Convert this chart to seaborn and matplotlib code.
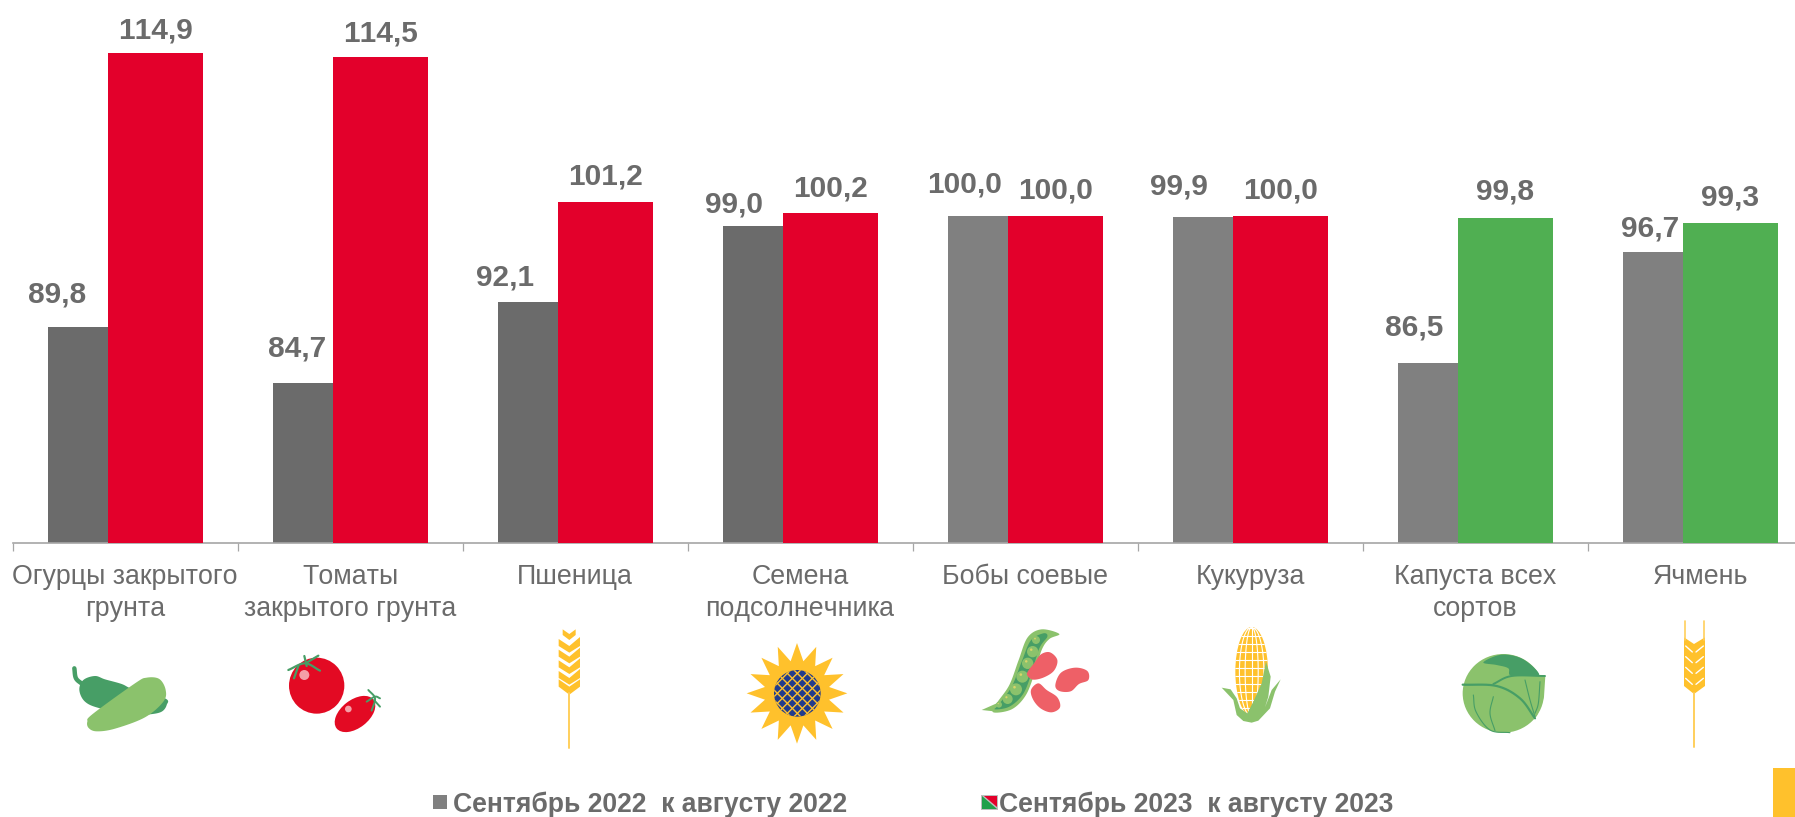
import numpy as np
import pandas as pd
import matplotlib
matplotlib.use("Agg")
import matplotlib.pyplot as plt
from matplotlib.patches import Polygon, Circle, Ellipse, Rectangle
import seaborn as sns

categories = ["Огурцы закрытого\nгрунта", "Томаты\nзакрытого грунта", "Пшеница", "Семена\nподсолнечника",
              "Бобы соевые", "Кукуруза", "Капуста всех\nсортов", "Ячмень"]
series_2022 = [89.8, 84.7, 92.1, 99.0, 100.0, 99.9, 86.5, 96.7]
series_2023 = [114.9, 114.5, 101.2, 100.2, 100.0, 100.0, 99.8, 99.3]
name_2022 = "Сентябрь 2022  к августу 2022"
name_2023 = "Сентябрь 2023  к августу 2023"

GREY_D, GREY_L = "#6B6B6B", "#808080"
RED, GREEN = "#E3002B", "#50AF52"
TXT = "#6B6B6B"
YEL, LG, DG = "#FFC12C", "#8BC26C", "#479E66"
colors_2022 = [GREY_D] * 4 + [GREY_L] * 4
colors_2023 = [RED] * 6 + [GREEN] * 2
# label offsets from each bar's centre/top, in pixels
dx_2022 = [-38, -23, -40, -36, -31, -41, -31, -20]
dy_2022 = [32, 34, 24, 22, 31, 30, 35, 23]
dy_2023 = [22, 23.5, 26, 24.5, 25, 25, 26, 26]

sns.set_theme(style="white")
plt.rcParams["font.family"] = ["Liberation Sans", "DejaVu Sans"]
plt.rcParams["text.kerning_factor"] = 12

W, H = 1795, 817
fig = plt.figure(figsize=(W / 100, H / 100), dpi=100, facecolor="white")
BASE = 543
ax = fig.add_axes([12.6 / W, 1 - BASE / H, 1 - 12.6 / W, BASE / H])

df = pd.DataFrame({"cat": categories * 2,
                   "val": series_2022 + series_2023,
                   "s": [name_2022] * 8 + [name_2023] * 8})
sns.barplot(data=df, x="cat", y="val", hue="s", order=categories, hue_order=[name_2022, name_2023],
            palette=[GREY_D, RED], saturation=1, legend=False, ax=ax, errorbar=None)

BW = 95 / 225
OFF = 30 / 225
for cont, sign, cols in zip(ax.containers, (-1, 1), (colors_2022, colors_2023)):
    for i, (p, c) in enumerate(zip(cont.patches, cols)):
        p.set_width(BW)
        p.set_x(i + sign * OFF - BW / 2)
        p.set_facecolor(c)
        p.set_edgecolor("none")
        p.set_zorder(3 if sign > 0 else 2)

ax.set_xlim(-0.5, (W - 12.6) / 225 - 0.5)
ax.set_ylim(70.0, 119.75)
ax.set_xlabel("")
ax.set_ylabel("")
ax.set_yticks([])
for s in ("left", "top", "right"):
    ax.spines[s].set_visible(False)
ax.spines["bottom"].set_color("#A6A6A6")
ax.spines["bottom"].set_linewidth(1.2)
ax.set_xticks(np.arange(-0.5, 7.5), minor=True)
ax.tick_params(axis="x", which="minor", length=5.8, width=0.9, color="#A6A6A6", bottom=True)
ax.tick_params(axis="x", which="major", length=0, pad=15, labelsize=19.3, labelcolor=TXT)
for t in ax.get_xticklabels():
    t.set_linespacing(1.33)
    t.set_va("top")

for i in range(8):
    ax.annotate(f"{series_2022[i]:.1f}".replace(".", ","), (i - OFF, series_2022[i]),
                xytext=(dx_2022[i] * .72, dy_2022[i] * .72), textcoords="offset points",
                ha="center", va="center", fontsize=21.5, fontweight="bold", color=TXT, zorder=5)
    ax.annotate(f"{series_2023[i]:.1f}".replace(".", ","), (i + OFF, series_2023[i]),
                xytext=(0, dy_2023[i] * .72), textcoords="offset points",
                ha="center", va="center", fontsize=21.5, fontweight="bold", color=TXT, zorder=5)

# ---- overlay in pixel coordinates for pictograms and legend ----
ov = fig.add_axes([0, 0, 1, 1], facecolor="none")
ov.set_xlim(0, W)
ov.set_ylim(H, 0)
ov.axis("off")


def smooth(pts, n=10):
    pts = np.asarray(pts, float)
    out = []
    m = len(pts)
    for k in range(m):
        p0, p1, p2, p3 = pts[k - 1], pts[k], pts[(k + 1) % m], pts[(k + 2) % m]
        for t in np.linspace(0, 1, n, endpoint=False):
            out.append(0.5 * (2 * p1 + (p2 - p0) * t + (2 * p0 - 5 * p1 + 4 * p2 - p3) * t ** 2
                              + (3 * p1 - p0 - 3 * p2 + p3) * t ** 3))
    return np.array(out)


def smooth_open(pts):
    pts = np.asarray(pts, float)
    if len(pts) < 3:
        return pts
    ext = np.vstack([2 * pts[0] - pts[1], pts, 2 * pts[-1] - pts[-2]])
    out = []
    for k in range(1, len(ext) - 2):
        p0, p1, p2, p3 = ext[k - 1], ext[k], ext[k + 1], ext[k + 2]
        for t in np.linspace(0, 1, 10):
            out.append(0.5 * (2 * p1 + (p2 - p0) * t + (2 * p0 - 5 * p1 + 4 * p2 - p3) * t ** 2
                              + (3 * p1 - p0 - 3 * p2 + p3) * t ** 3))
    return np.array(out)


class Icon:
    def __init__(self, x0, y0):
        self.x0, self.y0 = x0, y0

    def xy(self, pts):
        return np.asarray(pts, float) / 3 + [self.x0, self.y0]

    def poly(self, pts, c, z=10):
        ov.add_patch(Polygon(self.xy(pts), closed=True, fc=c, ec="none", zorder=z))

    def blob(self, pts, c, z=10):
        self.poly(smooth(pts), c, z)

    def line(self, pts, c, lw=1.5, z=11):
        a = self.xy(smooth_open(pts))
        ov.plot(a[:, 0], a[:, 1], color=c, lw=lw, zorder=z, solid_capstyle="round")

    def circ(self, x, y, r, c, z=11):
        p = self.xy([[x, y]])[0]
        ov.add_patch(Circle(p, r / 3, fc=c, ec="none", zorder=z))

    def ell(self, x, y, w, h, ang, c, z=10):
        p = self.xy([[x, y]])[0]
        ov.add_patch(Ellipse(p, w / 3, h / 3, angle=ang, fc=c, ec="none", zorder=z))


# pepper + cucumber
a = Icon(50, 640)
a.line([(73, 85), (78, 115), (98, 133)], DG, lw=3.2)
a.blob([(88, 150), (100, 120), (135, 108), (165, 118), (215, 132), (250, 148), (345, 175), (350, 195),
        (335, 215), (300, 223), (250, 225), (150, 205), (105, 185)], DG)
a.blob([(112, 245), (128, 222), (255, 130), (290, 113), (328, 117), (347, 150), (340, 185), (285, 232),
        (195, 266), (140, 274), (116, 264)], LG, z=11)

# tomatoes
a.ell(800, 137, 166, 168, 0, "#E30A23")
a.circ(763, 105, 15, "#F4A0A8")
for pts in ([(715, 90), (765, 70), (810, 92)], [(763, 48), (770, 78)], [(770, 68), (805, 47)], [(745, 78), (732, 115)]):
    a.line(pts, DG, lw=1.6, z=12)
a.ell(915, 222, 140, 84, -38, "#E30A23")
a.circ(895, 207, 10, "#F4A0A8")
for pts in ([(955, 150), (975, 175), (965, 212)], [(950, 185), (975, 170), (990, 175)], [(972, 180), (990, 200)]):
    a.line(pts, DG, lw=1.4, z=12)

# wheat
b = Icon(530, 620)
b.line([(117, 220), (117, 383)], "#FFCF5C", lw=1.4)
b.poly([(98, 28), (118, 42), (137, 28), (137, 45), (118, 60), (98, 45)], YEL)
for y in (48, 80, 112, 144):
    b.poly([(86, y + 9), (118, y + 30), (150, y + 3), (150, y + 30), (118, y + 50), (86, y + 30)], YEL)
b.poly([(86, 178), (118, 200), (150, 178), (150, 200), (118, 224), (86, 200)], YEL)

# sunflower
ang = np.arange(32) * np.pi / 16
rad = np.where(np.arange(32) % 2 == 0, 151, 98)
b.poly(np.c_[801 + rad * np.sin(ang), 220 - rad * np.cos(ang)], YEL)
disc = Circle(b.xy([[802, 220]])[0], 70 / 3, fc="#233C8C", ec="none", zorder=11)
ov.add_patch(disc)
for d in np.arange(-120, 121, 30):
    for sgn in (1, -1):
        pts = b.xy([[802 - 100, 220 + d - sgn * 100], [802 + 100, 220 + d + sgn * 100]])
        l, = ov.plot(pts[:, 0], pts[:, 1], color=YEL, lw=1.0, zorder=12)
        l.set_clip_path(disc)

# pod + beans
c = Icon(960, 620)
c.blob([(110, 250), (148, 195), (176, 120), (203, 52), (245, 28), (298, 42), (268, 57), (245, 90),
        (222, 165), (196, 228), (155, 268), (100, 277)], LG)
c.poly([(65, 270), (110, 250), (120, 276)], LG)
c.blob([(115, 255), (155, 200), (185, 125), (212, 62), (250, 40), (262, 50), (238, 85), (213, 165),
        (188, 224), (148, 260), (105, 268)], DG, z=11)
for x, y, r in [(228, 60, 12), (218, 95, 17), (203, 130, 17), (187, 170, 18), (168, 208, 18), (143, 237, 15), (117, 254, 9)]:
    c.circ(x, y, r, LG, z=12)
    c.circ(x - r * .25, y - r * .35, r * .22, "#D9D56A", z=13)
BEAN = "#EE6067"
c.blob([(203, 155), (222, 130), (243, 103), (270, 97), (292, 120), (282, 152), (252, 172), (220, 179), (203, 168)], BEAN, z=14)
c.blob([(286, 195), (303, 158), (345, 143), (382, 153), (385, 180), (357, 192), (332, 214), (298, 213)], BEAN, z=14)
c.blob([(213, 210), (235, 190), (260, 210), (292, 232), (300, 262), (275, 277), (243, 266), (220, 240)], BEAN, z=14)

# corn
ear = Ellipse(c.xy([[875, 155]])[0], 98 / 3, 268 / 3, fc=YEL, ec="none", zorder=11)
ov.add_patch(ear)
for dy in np.arange(-130, 140, 24):
    pts = c.xy([[820, 155 + dy], [930, 155 + dy]])
    l, = ov.plot(pts[:, 0], pts[:, 1], color="white", lw=0.8, zorder=12)
    l.set_clip_path(ear)
tt = np.linspace(-1, 1, 40)
for f in (-0.75, -0.4, 0, 0.4, 0.75):
    pts = c.xy(np.c_[875 + f * 49 * np.sqrt(1 - tt ** 2), 155 + 134 * tt])
    l, = ov.plot(pts[:, 0], pts[:, 1], color="white", lw=0.8, zorder=12)
    l.set_clip_path(ear)
c.poly([(785, 203), (812, 208), (830, 235), (840, 265), (862, 280), (880, 245), (905, 190), (918, 125), (932, 170),
        (925, 230), (915, 262), (935, 210), (962, 178), (945, 215), (930, 265), (895, 302), (875, 308), (850, 303),
        (830, 285), (820, 240)], LG, z=13)

# cabbage
d = Icon(1440, 610)
d.ell(190, 250, 244, 236, 0, LG)
d.blob([(130, 157), (185, 134), (250, 148), (297, 197), (215, 198), (205, 175), (170, 165)], DG, z=11)
d.poly([(215, 198), (316, 198), (312, 260), (290, 320), (240, 265), (165, 228)], LG, z=12)
for pts, lw in ([[(68, 224), (170, 228), (240, 265), (285, 325)], 1.6], [[(160, 222), (215, 198), (315, 198)], 1.4],
                [[(215, 180), (240, 150)], 1.2], [[(100, 255), (108, 305), (150, 360), (210, 368)], 0.8],
                [[(160, 260), (150, 310), (165, 362)], 0.8], [[(255, 210), (270, 270), (285, 320)], 0.8],
                [[(300, 215), (295, 280), (285, 310)], 0.8]):
    d.line(pts, DG, lw=lw, z=13)

# barley
d.line([(762, 250), (762, 412)], "#FFCF5C", lw=1.4)
d.line([(734, 32), (734, 90)], "#FFCF5C", lw=1.2)
d.line([(791, 32), (791, 90)], "#FFCF5C", lw=1.2)
d.poly([(732, 82), (762, 102), (795, 82), (795, 228), (762, 252), (732, 228)], YEL)
for y in (108, 140, 172, 205):
    d.line([(737, y), (757, y + 18)], "white", lw=1.0, z=12)
    d.line([(790, y), (768, y + 18)], "white", lw=1.0, z=12)

# legend
ov.add_patch(Rectangle((433, 795), 14, 14, fc=GREY_L, ec="none"))
ov.text(453, 805, name_2022, fontsize=19.1, fontweight="bold", color=TXT, ha="left", va="center")
ov.add_patch(Rectangle((981, 795), 17, 15, fc="#BDBDBD", ec="none"))
ov.add_patch(Polygon([(982, 796), (982, 809), (997, 809)], fc="#20A04B", ec="none"))
ov.add_patch(Polygon([(984, 796), (997, 796), (997, 807)], fc=RED, ec="none"))
ov.text(999, 805, name_2023, fontsize=19.1, fontweight="bold", color=TXT, ha="left", va="center")

# corner block
ov.add_patch(Rectangle((1773, 768), 22, 49, fc=YEL, ec="none"))

fig.savefig("out.png", dpi=100, facecolor="white")
